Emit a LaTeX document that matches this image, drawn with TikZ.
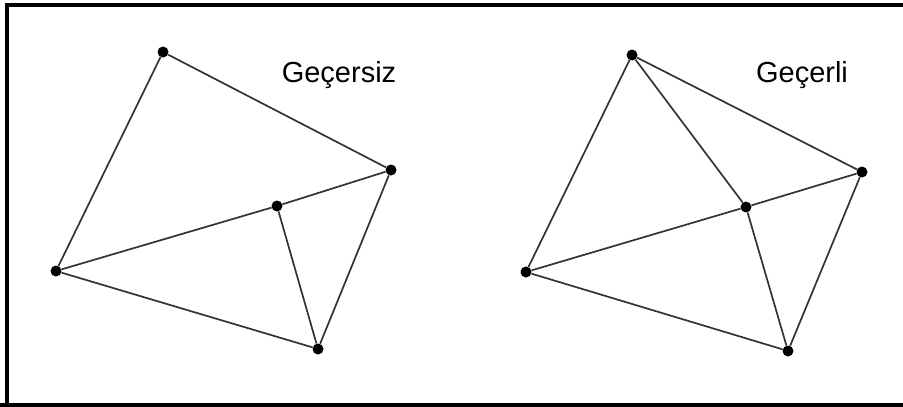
\documentclass[tikz,border=0pt]{standalone}
\usepackage{fontspec}
\setmainfont{Liberation Sans}
\usetikzlibrary{calc}
\definecolor{edgegray}{HTML}{333333}

\begin{document}
\begin{tikzpicture}[
  x=1pt, y=-1pt,
  dot/.style={circle, fill=black, inner sep=0pt, minimum size=11pt},
  edge/.style={edgegray, line width=1.7pt},
  lbl/.style={font=\fontsize{29}{34}\selectfont, inner sep=0pt},
]
\useasboundingbox (0,0) rectangle (903,407);

% ══════════════════════════════════════════════════════
% Frame
% ══════════════════════════════════════════════════════
\draw[line width=4.5pt] (7,407) -- (7,5) -- (903,5);
\draw[line width=4.5pt] (0,405) -- (903,405);

% ══════════════════════════════════════════════════════
% Left triangulation (invalid)
% ══════════════════════════════════════════════════════
\node[dot] (La) at (163,52) {};
\node[dot] (Lb) at (391,170) {};
\node[dot] (Lc) at (277,206) {};
\node[dot] (Ld) at (56,271) {};
\node[dot] (Le) at (318,349) {};

\draw[edge] (La) -- (Lb);
\draw[edge] (La) -- (Ld);
\draw[edge] (Ld) -- (Lc);
\draw[edge] (Lc) -- (Lb);
\draw[edge] (Ld) -- (Le);
\draw[edge] (Le) -- (Lb);
\draw[edge] (Lc) -- (Le);

\node[lbl] (Ltxt) at (339,75) {Geçersiz};

% ══════════════════════════════════════════════════════
% Right triangulation (valid)
% ══════════════════════════════════════════════════════
\node[dot] (Ra) at (632,55) {};
\node[dot] (Rb) at (862,172) {};
\node[dot] (Rc) at (746,207) {};
\node[dot] (Rd) at (526,272) {};
\node[dot] (Re) at (788,351) {};

\draw[edge] (Ra) -- (Rb);
\draw[edge] (Ra) -- (Rd);
\draw[edge] (Rd) -- (Rc);
\draw[edge] (Rc) -- (Rb);
\draw[edge] (Rd) -- (Re);
\draw[edge] (Re) -- (Rb);
\draw[edge] (Rc) -- (Re);
\draw[edge] (Ra) -- (Rc);

\node[lbl] (Rtxt) at (802,75) {Geçerli};

\end{tikzpicture}
\end{document}
